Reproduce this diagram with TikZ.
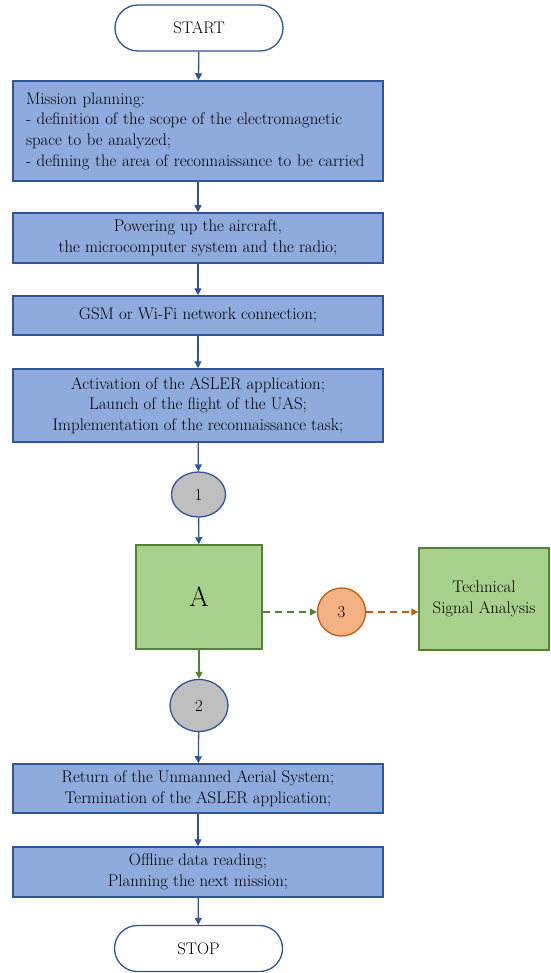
\documentclass[tikz,border=0pt]{standalone}
\usetikzlibrary{arrows.meta,shapes.geometric,shapes.misc}
\definecolor{bfill}{HTML}{8FAADC}
\definecolor{bline}{HTML}{2F5597}
\definecolor{gfill}{HTML}{A9D18E}
\definecolor{gline}{HTML}{548235}
\definecolor{ofill}{HTML}{F4B183}
\definecolor{oline}{HTML}{C55A11}
\definecolor{cfill}{HTML}{BFBFBF}
\begin{document}
\begin{tikzpicture}[x=1pt,y=-1pt,
  font=\fontsize{16.8}{20.7}\selectfont,
  bbox/.style={draw=bline,fill=bfill,line width=1.5pt,minimum width=370pt,inner sep=0pt,align=center},
  term/.style={draw=bline,fill=white,line width=1.3pt,rounded rectangle,minimum width=168pt,minimum height=46pt,inner sep=0pt},
  conn/.style={draw=bline,fill=cfill,line width=1.3pt,ellipse,inner sep=0pt},
  gbox/.style={draw=gline,fill=gfill,line width=1.5pt,inner sep=0pt,align=center},
  arr/.style={draw=bline,line width=1.3pt,-{Triangle[length=7pt,width=7pt]}},
  garr/.style={draw=gline,line width=1.3pt,-{Triangle[length=7pt,width=7pt]}},
  oarr/.style={draw=oline,line width=1.3pt,-{Triangle[length=7pt,width=7pt]}}]
\useasboundingbox (0,0) rectangle (550,973);
\node[term] (start) at (199,28) {START};
\node[bbox,minimum height=100pt,text width=344pt,align=left] (b1) at (198,131)
 {Mission planning:\\- definition of the scope of the electromagnetic\\space to be analyzed;\\- defining the area of reconnaissance to be carried};
\node[bbox,minimum height=50pt] (b2) at (198,238) {Powering up the aircraft,\\the microcomputer system and the radio;};
\node[bbox,minimum height=39pt] (b3) at (198,315.5) {GSM or Wi-Fi network connection;};
\node[bbox,minimum height=73pt] (b4) at (198,405.5) {Activation of the ASLER application;\\Launch of the flight of the UAS;\\Implementation of the reconnaissance task;};
\node[conn,minimum width=54pt,minimum height=45pt] (c1) at (198.5,494.5) {1};
\node[gbox,minimum width=126pt,minimum height=104pt,font=\fontsize{28}{30}\selectfont] (A) at (199,597) {A};
\node[draw=oline,fill=ofill,line width=1.3pt,circle,minimum size=48pt,inner sep=0pt] (c3) at (341.5,612) {3};
\node[gbox,minimum width=130pt,minimum height=102pt] (tech) at (484,599) {Technical\\Signal Analysis};
\node[conn,minimum width=58pt,minimum height=52pt] (c2) at (199,705.5) {2};
\node[bbox,minimum height=49pt] (b5) at (198,788.5) {Return of the Unmanned Aerial System;\\Termination of the ASLER application;};
\node[bbox,minimum height=50pt] (b6) at (198,872) {Offline data reading;\\Planning the next mission;};
\node[term] (stop) at (198.5,948.5) {STOP};
\draw[arr] (start) -- (b1);
\draw[arr] (b1) -- (b2);
\draw[arr] (b2) -- (b3);
\draw[arr] (b3) -- (b4);
\draw[arr] (b4) -- (c1);
\draw[arr] (c1) -- (A);
\draw[garr] (A) -- (c2);
\draw[arr] (c2) -- (b5);
\draw[arr] (b5) -- (b6);
\draw[arr] (b6) -- (stop);
\draw[garr,dash pattern=on 7pt off 5pt] (c3.west -| A.east) -- (c3.west);
\draw[oarr,dash pattern=on 7pt off 5pt] (c3.east) -- (c3.east -| tech.west);
\end{tikzpicture}
\end{document}
